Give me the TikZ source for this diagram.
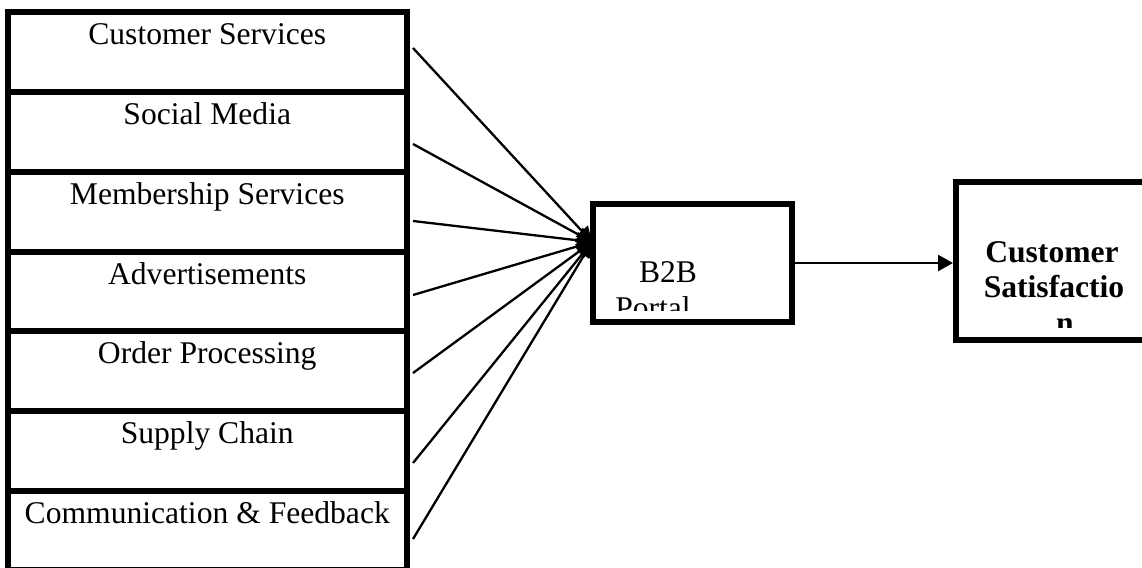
\documentclass[tikz,border=0pt]{standalone}
\usepackage{fontspec}
\setmainfont{Liberation Serif}
\usetikzlibrary{arrows.meta,calc}
\begin{document}
\begin{tikzpicture}[x=1pt,y=-1pt,
  layerbox/.style={draw,line width=6pt,minimum width=398.5pt,minimum height=79.7pt,inner sep=0pt,outer sep=0pt},
  heavybox/.style={draw,line width=6.5pt,inner sep=0pt,outer sep=0pt},
  txt/.style={inner sep=0pt,anchor=base,font=\fontsize{31.6}{36}\selectfont},
  boldtxt/.style={txt,font=\fontsize{31.6}{36}\selectfont\bfseries},
  conn/.style={line width=2.3pt,-{Triangle[length=15pt,width=16pt]}}
]
\useasboundingbox (0,0) rectangle (1142,567);
\clip (0,0) rectangle (1142,567);

% stack of service layers
\node[layerbox] (l1) at (207.25,52.35)  {};
\node[layerbox] (l2) at (207.25,132.05) {};
\node[layerbox] (l3) at (207.25,211.75) {};
\node[layerbox] (l4) at (207.25,291.45) {};
\node[layerbox] (l5) at (207.25,371.15) {};
\node[layerbox] (l6) at (207.25,450.85) {};
\node[layerbox] (l7) at (207.25,530.55) {};

\node[txt] (t1) at ($(l1.north)+(0,32.5)$) {Customer Services};
\node[txt] (t2) at ($(l2.north)+(0,32.5)$) {Social Media};
\node[txt] (t3) at ($(l3.north)+(0,32.5)$) {Membership Services};
\node[txt] (t4) at ($(l4.north)+(0,32.5)$) {Advertisements};
\node[txt] (t5) at ($(l5.north)+(0,32.5)$) {Order Processing};
\node[txt] (t6) at ($(l6.north)+(0,32.5)$) {Supply Chain};
\node[txt] (t7) at ($(l7.north)+(0,32.5)$) {Communication \& Feedback};

% portal and outcome boxes
\node[heavybox,minimum width=199pt,minimum height=118pt] (b2b) at (692.5,263) {};
\node[heavybox,minimum width=194pt,minimum height=158pt] (cs) at (1053,261) {};

\begin{scope}
  \clip ($(b2b.south west)+(3,-12)$) rectangle ($(b2b.north east)+(-3,3)$);
  \node[txt] (p1) at (668,282) {B2B};
  \node[txt] (p2) at (653,318) {Portal};
\end{scope}

\begin{scope}
  \clip ($(cs.south west)+(3,-13)$) rectangle ($(cs.north east)+(-3,3)$);
  \node[boldtxt] (c1) at (1052,262) {Customer};
  \node[boldtxt] (c2) at (1054,297.5) {Satisfactio};
  \node[boldtxt] (c3) at (1065,333) {n};
\end{scope}

% connectors from the layers into the portal
\coordinate (s1) at (413,48);
\coordinate (s2) at (413,144);
\coordinate (s3) at (413,221);
\coordinate (s4) at (413,295);
\coordinate (s5) at (413,373);
\coordinate (s6) at (413,463);
\coordinate (s7) at (413,539);
\coordinate (hub) at ($(b2b.west)+(-1,-21)$);

\foreach \s in {s1,s2,s3,s4,s5,s6,s7}
  \draw[conn] (\s) -- (hub);

\draw[conn,shorten >=3pt] (b2b.east) -- (b2b.east -| cs.west);
\end{tikzpicture}
\end{document}
